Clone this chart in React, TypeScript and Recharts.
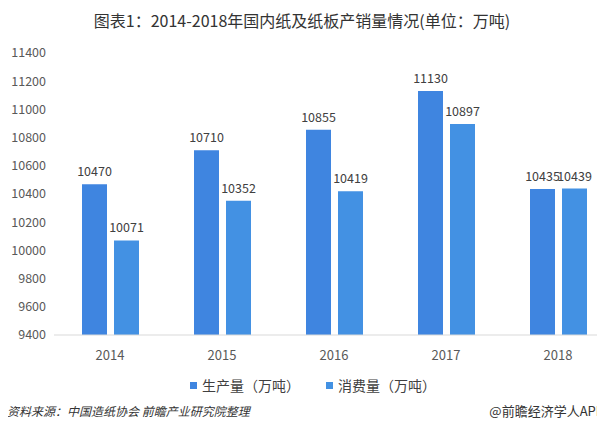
import { BarChart, Bar, XAxis, YAxis, LabelList } from "recharts";

const years = ["2014", "2015", "2016", "2017", "2018"];
const production = [10470, 10710, 10855, 11130, 10435];
const consumption = [10071, 10352, 10419, 10897, 10439];
const yTicks = [9400, 9600, 9800, 10000, 10200, 10400, 10600, 10800, 11000, 11200, 11400];

const data = years.map((year, i) => ({
  year,
  production: production[i],
  consumption: consumption[i],
}));

const FONT = '"Microsoft YaHei", "Noto Sans CJK SC", sans-serif';
const PROD_COLOR = "#3f85e0";
const CONS_COLOR = "#4391e3";

export default function App() {
  return (
    <div
      style={{
        position: "relative",
        width: 605,
        height: 434,
        margin: -8,
        overflow: "hidden",
        background: "#fff",
        fontFamily: FONT,
      }}
    >
      <div
        style={{
          position: "absolute",
          top: 8,
          left: 0,
          width: 604,
          textAlign: "center",
          fontSize: 16,
          lineHeight: "24px",
          color: "#333",
          whiteSpace: "nowrap",
        }}
      >
        图表1：2014-2018年国内纸及纸板产销量情况(单位：万吨)
      </div>

      <div style={{ position: "absolute", top: 0, left: 0 }}>
        <BarChart
          width={625}
          height={434}
          data={data}
          margin={{ top: 53, right: 11, bottom: 69, left: 12 }}
          barGap={7}
          barSize={25}
        >
          <XAxis
            dataKey="year"
            height={30}
            tickLine={false}
            axisLine={{ stroke: "#d9d9d9" }}
            tick={{ fill: "#595959", fontSize: 13, fontFamily: FONT }}
            tickMargin={10}
          />
          <YAxis
            width={42}
            domain={[9400, 11400]}
            ticks={yTicks}
            interval={0}
            axisLine={false}
            tickLine={false}
            tickMargin={2}
            tick={{ fill: "#595959", fontSize: 12.5, fontFamily: FONT }}
          />
          <Bar dataKey="production" fill={PROD_COLOR} isAnimationActive={false}>
            <LabelList
              dataKey="production"
              position="top"
              offset={8}
              style={{ fill: "#404040", fontSize: 12.5, fontFamily: FONT }}
            />
          </Bar>
          <Bar dataKey="consumption" fill={CONS_COLOR} isAnimationActive={false}>
            <LabelList
              dataKey="consumption"
              position="top"
              offset={8}
              style={{ fill: "#404040", fontSize: 12.5, fontFamily: FONT }}
            />
          </Bar>
        </BarChart>
      </div>

      <div
        style={{
          position: "absolute",
          top: 375,
          left: 190,
          display: "flex",
          alignItems: "center",
          fontSize: 14,
          lineHeight: "20px",
          color: "#404040",
          whiteSpace: "nowrap",
        }}
      >
        <span style={{ width: 7, height: 7, background: PROD_COLOR, marginRight: 5, display: "inline-block" }} />
        <span style={{ marginRight: 26 }}>生产量（万吨）</span>
        <span style={{ width: 7, height: 7, background: CONS_COLOR, marginRight: 5, display: "inline-block" }} />
        <span>消费量（万吨）</span>
      </div>

      <div
        style={{
          position: "absolute",
          top: 402,
          left: 7,
          fontSize: 12,
          lineHeight: "18px",
          fontStyle: "italic",
          color: "#333",
          whiteSpace: "nowrap",
        }}
      >
        资料来源：中国造纸协会 前瞻产业研究院整理
      </div>
      <div
        style={{
          position: "absolute",
          top: 402,
          right: 1,
          fontSize: 13,
          lineHeight: "18px",
          color: "#333",
          whiteSpace: "nowrap",
        }}
      >
        @前瞻经济学人APP
      </div>
    </div>
  );
}
